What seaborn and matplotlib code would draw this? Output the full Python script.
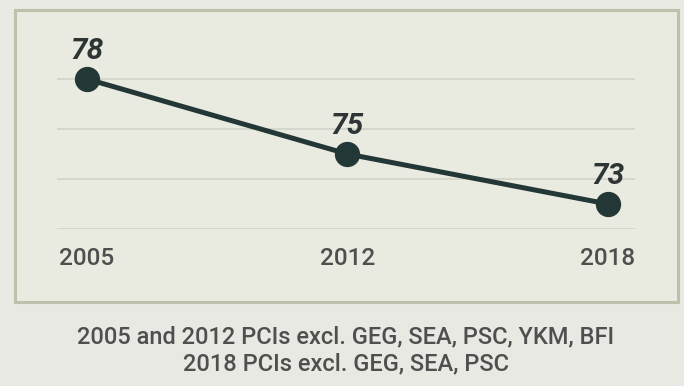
import matplotlib
matplotlib.use("Agg")
import matplotlib.pyplot as plt
import seaborn as sns
from matplotlib.patches import Rectangle

years = ["2005", "2012", "2018"]
values = [78, 75, 73]
grid_levels = [72, 74, 76, 78]
caption_lines = [
    "2005 and 2012 PCIs excl. GEG, SEA, PSC, YKM, BFI",
    "2018 PCIs excl. GEG, SEA, PSC",
]

sns.set_style("white")
plt.rcParams["font.family"] = ["Roboto", "DejaVu Sans"]

W, H = 684, 386
fig = plt.figure(figsize=(W / 100, H / 100), dpi=100)
fig.patch.set_facecolor("#e8e9e2")

# framed panel behind the plot
panel = Rectangle((15 / W, 1 - 302 / H), (678 - 15) / W, (302 - 10) / H,
                  transform=fig.transFigure, facecolor="#e9eae0",
                  edgecolor="#bdc1ab", linewidth=2.2, zorder=-1)
fig.patches.append(panel)

ax = fig.add_axes([57 / W, 1 - 229 / H, (635 - 57) / W, 200 / H])
ax.set_facecolor("none")

sns.pointplot(x=years, y=values, color="#243737", markersize=15.5,
              linewidth=3.6, ax=ax)

for i, v in enumerate(values):
    ax.annotate(str(v), (i, v), xytext=(0, 20), textcoords="offset points",
                ha="center", va="center", fontsize=21.5, fontweight="bold",
                style="italic", color="#2e3535")

ax.set_ylim(72, 80)
ax.set_xlim(-0.115, 2.104)
ax.set_yticks(grid_levels)
ax.set_yticklabels([])
ax.yaxis.grid(True, color="#d5d6ca", linewidth=1.3)
ax.set_axisbelow(True)
ax.tick_params(axis="both", length=0)
ax.tick_params(axis="x", pad=13, labelsize=17.5, labelcolor="#4f4f4f")
for lbl in ax.get_xticklabels():
    lbl.set_fontweight("medium")
ax.set_xlabel("")
ax.set_ylabel("")
sns.despine(ax=ax, left=True, bottom=True)

fig.text(346 / W, 1 - 337 / H, caption_lines[0], ha="center", va="center",
         fontsize=17, color="#4f4f4f", fontweight="medium")
fig.text(346 / W, 1 - 364 / H, caption_lines[1], ha="center", va="center",
         fontsize=17, color="#4f4f4f", fontweight="medium")

fig.savefig("out.png", dpi=100, facecolor=fig.get_facecolor())
